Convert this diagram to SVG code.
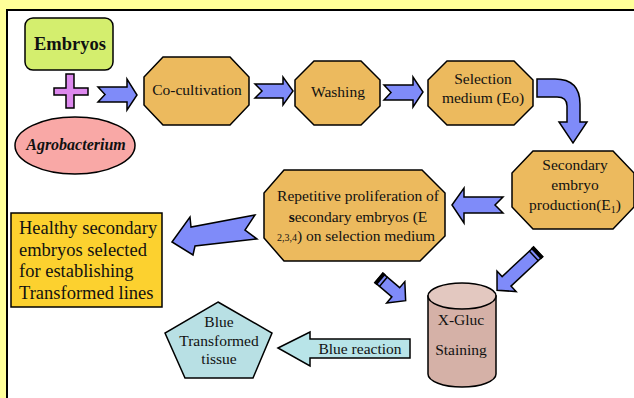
<svg xmlns="http://www.w3.org/2000/svg" width="634" height="398" viewBox="0 0 634 398" font-family="'Liberation Serif', 'Times New Roman', 'DejaVu Serif', serif">
<style>
text{font-family:'Liberation Serif','Times New Roman','DejaVu Serif',serif;fill:#111;}
.t{font-size:15.5px;text-anchor:middle;}
.oct{fill:#ECBA5E;stroke:#000;stroke-width:1.5;}
.arr{fill:#7F8BF9;stroke:#000;stroke-width:1.5;stroke-linejoin:miter;}
.cap{fill:#000;}
</style>
<rect x="0" y="0" width="634" height="398" fill="#FFFF99"/>
<rect x="7" y="10" width="640" height="400" fill="#fff" stroke="#000" stroke-width="2"/>

<g id="connectors">
<path class="arr" d="M98,87 L127,87 L127,79 L137,95 L127,110 L127,102 L98,102 L105,94.5 Z"/>
<path class="arr" d="M255,84 L283,84 L283,77 L293,91 L283,105 L283,98 L255,98 L262,91 Z"/>
<path class="arr" d="M384,85 L413,85 L413,77 L423,92 L413,107 L413,100 L384,100 L391,92.5 Z"/>
<path class="arr" d="M537,79 L555,79 Q580,79 580,104 L580,122 L587,122 L573,143 L559,122 L567,122 L567,106 Q567,97 557,97 L537,97 Z"/>
<path class="arr" d="M452,205 L464,188 L464,197 L503,197 L495,205 L503,213 L464,213 L464,223 Z"/>
<path class="arr" d="M172,242 L190,217 L191,227 L255,215 L245,230 L257,239 L195,246 L193,255 Z"/>
<g transform="translate(379,278) rotate(40.4)">
<path class="arr" d="M0,-6 L22,-6 L22,-14 L35,0 L22,14 L22,6 L0,6 Z"/>
<rect class="cap" x="-1" y="-7" width="4" height="14"/>
<rect class="cap" x="5" y="-6.5" width="1.5" height="13"/>
</g>
<g transform="translate(538,252) rotate(137)">
<path class="arr" d="M0,-6.5 L43,-6.5 L43,-14 L56,0 L43,14 L43,6.5 L0,6.5 Z"/>
<rect class="cap" x="-1" y="-7.5" width="4" height="15"/>
<rect class="cap" x="5" y="-7" width="1.5" height="14"/>
</g>
<path d="M278,348 L310,332 L310,339 L410,339 L410,358 L310,358 L310,366 Z" fill="#B8E4E8" stroke="#000" stroke-width="1.5"/>
<text class="t" x="360" y="354">Blue reaction</text>
</g>

<g id="embryos">
<rect x="25" y="18" width="88" height="52" rx="8" fill="#D4EE6E" stroke="#000" stroke-width="1.5"/>
<text x="70" y="50" font-size="18.5" font-weight="bold" text-anchor="middle">Embryos</text>
</g>

<g id="plus">
<path d="M66,74 L74,74 L74,88 L88,88 L88,95 L74,95 L74,108 L66,108 L66,95 L54,95 L54,88 L66,88 Z" fill="#DD88EE" stroke="#000" stroke-width="1.5"/>
</g>

<g id="agrobacterium">
<ellipse cx="75" cy="145.5" rx="60" ry="28.5" fill="#F9A8A6" stroke="#000" stroke-width="1.5"/>
<text x="76" y="150" font-size="16" font-weight="bold" font-style="italic" text-anchor="middle">Agrobacterium</text>
</g>

<g id="cocultivation">
<polygon class="oct" points="163,57 230,57 249,77 249,105 230,125 163,125 144,105 144,77"/>
<text class="t" x="197" y="95">Co-cultivation</text>
</g>

<g id="washing">
<polygon class="oct" points="314,61 361,61 380,80 380,106 361,125 314,125 295,106 295,80"/>
<text class="t" x="338" y="97">Washing</text>
</g>

<g id="selection">
<polygon class="oct" points="447,61 514,61 533,80 533,106 514,125 447,125 428,106 428,80"/>
<text class="t" x="483" y="84">Selection</text>
<text class="t" x="483" y="103">medium (Eo)</text>
</g>

<g id="secondary">
<polygon class="oct" points="533,151 613,151 634,173 634,207 613,229 533,229 512,207 512,173"/>
<text class="t" x="575" y="170">Secondary</text>
<text class="t" x="575" y="190">embryo</text>
<text class="t" x="575" y="210">production(E<tspan font-size="10" dy="3">1</tspan><tspan dy="-3">)</tspan></text>
</g>

<g id="repetitive">
<polygon class="oct" points="284,170 422,170 445,193 445,236 420,261 284,261 264,238 264,193"/>
<text class="t" x="358" y="201">Repetitive proliferation of</text>
<text class="t" x="358" y="222"><tspan font-weight="bold">s</tspan>econdary embryos (E</text>
<text class="t" x="356" y="241"><tspan font-size="10">2,3,4</tspan>) on selection medium</text>
</g>

<g id="healthy">
<rect x="11" y="213" width="151" height="94" fill="#FCD12F" stroke="#000" stroke-width="1.5"/>
<text x="19" y="234" font-size="18.5">Healthy secondary</text>
<text x="19" y="256" font-size="18.5">embryos selected</text>
<text x="19" y="277" font-size="18.5">for establishing</text>
<text x="19" y="299" font-size="18.5">Transformed lines</text>
</g>

<g id="xgluc">
<path d="M428,296 L428,374 A34,13 0 0 0 496,374 L496,296 Z" fill="#D5B1A7" stroke="#000" stroke-width="1.5"/>
<ellipse cx="462" cy="296" rx="34" ry="13" fill="#E3C8C0" stroke="#000" stroke-width="1.5"/>
<text class="t" x="461" y="325">X-Gluc</text>
<text class="t" x="461" y="355">Staining</text>
</g>

<g id="blue-tissue">
<polygon points="218,302 272,333 253,378 185,378 165,333" fill="#B8E0E4" stroke="#000" stroke-width="1.5"/>
<text class="t" x="219" y="327">Blue</text>
<text class="t" x="219" y="346">Transformed</text>
<text class="t" x="219" y="364">tissue</text>
</g>
</svg>
